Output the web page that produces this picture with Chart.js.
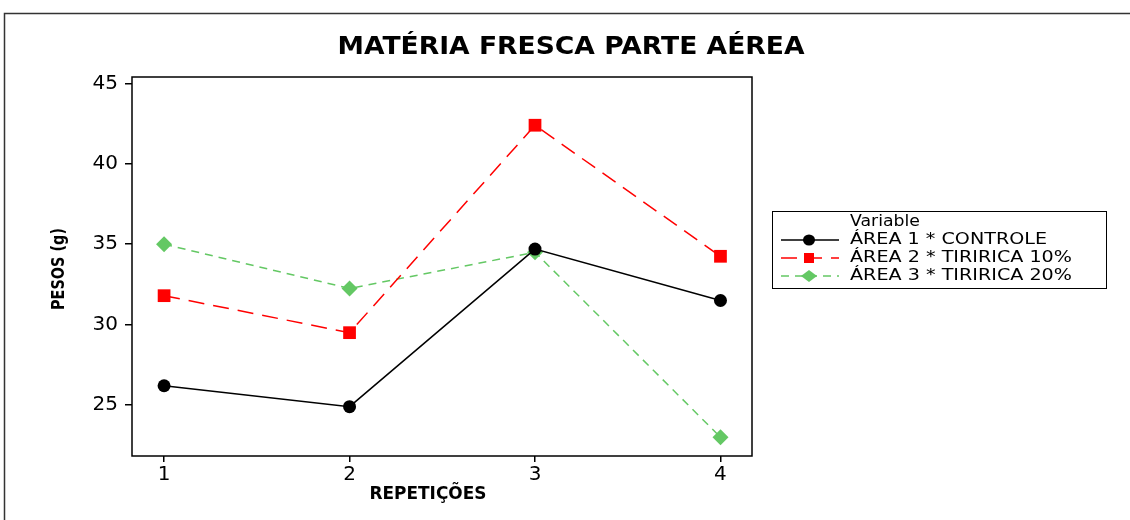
<!DOCTYPE html>
<html>
<head>
<meta charset="utf-8">
<script src="https://cdn.jsdelivr.net/npm/chart.js@4/dist/chart.umd.min.js"></script>
<style>
  html, body { margin: 0; padding: 0; background: #fff; }
  #wrap { width: 1130px; height: 520px; position: relative; }
</style>
</head>
<body>
<div id="wrap"><canvas id="c" width="1130" height="520"></canvas></div>
<script>
// ---- data ----
const repeticoes = [1, 2, 3, 4];
const controle = [26.2, 24.9, 34.7, 31.5];
const tiririca10 = [31.8, 29.5, 42.4, 34.25];
const tiririca20 = [35.0, 32.25, 34.5, 23.0];
const yTicks = [25, 30, 35, 40, 45];
const seriesNames = ['ÁREA 1 * CONTROLE', 'ÁREA 2 * TIRIRICA 10%', 'ÁREA 3 * TIRIRICA 20%'];
const chartTitle = 'MATÉRIA FRESCA PARTE AÉREA';
const xTitle = 'REPETIÇÕES';
const yTitle = 'PESOS (g)';
const legendTitle = 'Variable';

const toPts = arr => repeticoes.map((x, i) => ({ x: x, y: arr[i] }));

function drawStretched(ctx, text, x, y, font, width, align) {
  ctx.save();
  ctx.font = font;
  ctx.textBaseline = 'middle';
  ctx.textAlign = 'left';
  const w = ctx.measureText(text).width;
  const s = width ? width / w : 1;
  const realW = w * s;
  let left = x;
  if (align === 'center') left = x - realW / 2;
  else if (align === 'right') left = x - realW;
  ctx.translate(left, y);
  ctx.scale(s, 1);
  ctx.fillText(text, 0, 0);
  ctx.restore();
}

const decorPlugin = {
  id: 'decor',
  afterDraw(chart) {
    const ctx = chart.ctx;
    const a = chart.chartArea;
    ctx.save();
    // outer frame
    ctx.strokeStyle = '#333';
    ctx.lineWidth = 1.5;
    ctx.strokeRect(4.5, 13.5, 1200, 600);
    // plot border
    ctx.strokeStyle = '#000';
    ctx.lineWidth = 1.5;
    ctx.strokeRect(a.left, a.top, a.right - a.left, a.bottom - a.top);
    ctx.fillStyle = '#000';
    // title
    drawStretched(ctx, chartTitle, 571, 48, 'bold 24px "DejaVu Sans"', 467, 'center');
    // x axis title
    drawStretched(ctx, xTitle, 428, 494, 'bold 18px "DejaVu Sans"', 117, 'center');
    // y axis title (rotated)
    ctx.save();
    ctx.translate(59, 269);
    ctx.rotate(-Math.PI / 2);
    drawStretched(ctx, yTitle, 0, 0, 'bold 18px "DejaVu Sans"', 82, 'center');
    ctx.restore();
    // legend box
    ctx.strokeStyle = '#000';
    ctx.lineWidth = 1;
    ctx.strokeRect(772.5, 211.5, 334, 77);
    drawStretched(ctx, legendTitle, 850, 222, '15px "DejaVu Sans"', 70, 'left');
    const rowY = [240, 258, 276];
    const textW = [197, 222, 222];
    chart.data.datasets.forEach((ds, i) => {
      const y = rowY[i];
      ctx.save();
      ctx.strokeStyle = ds.borderColor;
      ctx.lineWidth = ds.borderWidth;
      ctx.setLineDash(ds.borderDash || []);
      ctx.beginPath();
      ctx.moveTo(781, y);
      ctx.lineTo(839, y);
      ctx.stroke();
      ctx.setLineDash([]);
      ctx.fillStyle = ds.pointBackgroundColor;
      ctx.beginPath();
      if (ds.pointStyle === 'circle') {
        ctx.ellipse(809, y, 6, 5.5, 0, 0, Math.PI * 2);
      } else if (ds.pointStyle === 'rect') {
        ctx.rect(804, y - 5, 10, 10);
      } else {
        ctx.moveTo(809, y - 6); ctx.lineTo(817, y); ctx.lineTo(809, y + 6); ctx.lineTo(801, y);
        ctx.closePath();
      }
      ctx.fill();
      ctx.restore();
      ctx.fillStyle = '#000';
      drawStretched(ctx, ds.label, 850, y, '15px "DejaVu Sans"', textW[i], 'left');
    });
    ctx.restore();
  }
};

new Chart(document.getElementById('c'), {
  type: 'line',
  data: {
    datasets: [
      {
        label: seriesNames[0], data: toPts(controle),
        borderColor: '#000000', backgroundColor: '#000000', pointBackgroundColor: '#000000',
        borderWidth: 1.5, pointStyle: 'circle', pointRadius: 6.5, pointBorderWidth: 0,
        tension: 0
      },
      {
        label: seriesNames[1], data: toPts(tiririca10),
        borderColor: '#ff0000', backgroundColor: '#ff0000', pointBackgroundColor: '#ff0000',
        borderWidth: 1.5, borderDash: [16, 9], pointStyle: 'rect', pointRadius: 9, pointBorderWidth: 0,
        tension: 0
      },
      {
        label: seriesNames[2], data: toPts(tiririca20),
        borderColor: '#64c864', backgroundColor: '#64c864', pointBackgroundColor: '#64c864',
        borderWidth: 1.5, borderDash: [8, 6], pointStyle: 'rectRot', pointRadius: 8, pointBorderWidth: 0,
        tension: 0
      }
    ]
  },
  options: {
    responsive: false,
    animation: false,
    devicePixelRatio: 1,
    layout: { padding: { left: 0, top: 77, right: 378, bottom: 0 } },
    plugins: {
      legend: { display: false },
      title: { display: false },
      tooltip: { enabled: false }
    },
    scales: {
      x: {
        type: 'linear',
        min: 0.827, max: 4.17,
        afterFit(scale) { scale.height = 64; },
        afterBuildTicks(scale) { scale.ticks = repeticoes.map(v => ({ value: v })); },
        grid: { display: true, drawOnChartArea: false, drawTicks: true, tickLength: 6, color: '#000', lineWidth: 1.5 },
        border: { display: false },
        ticks: { color: '#000', font: { family: 'DejaVu Sans', size: 20 }, padding: 1, maxRotation: 0 }
      },
      y: {
        type: 'linear',
        min: 21.83, max: 45.4,
        afterFit(scale) { scale.width = 132; },
        afterBuildTicks(scale) { scale.ticks = yTicks.map(v => ({ value: v })); },
        grid: { display: true, drawOnChartArea: false, drawTicks: true, tickLength: 7, color: '#000', lineWidth: 1.5 },
        border: { display: false },
        ticks: { color: '#000', font: { family: 'DejaVu Sans', size: 20 }, padding: 7 }
      }
    }
  },
  plugins: [decorPlugin]
});
</script>
</body>
</html>
